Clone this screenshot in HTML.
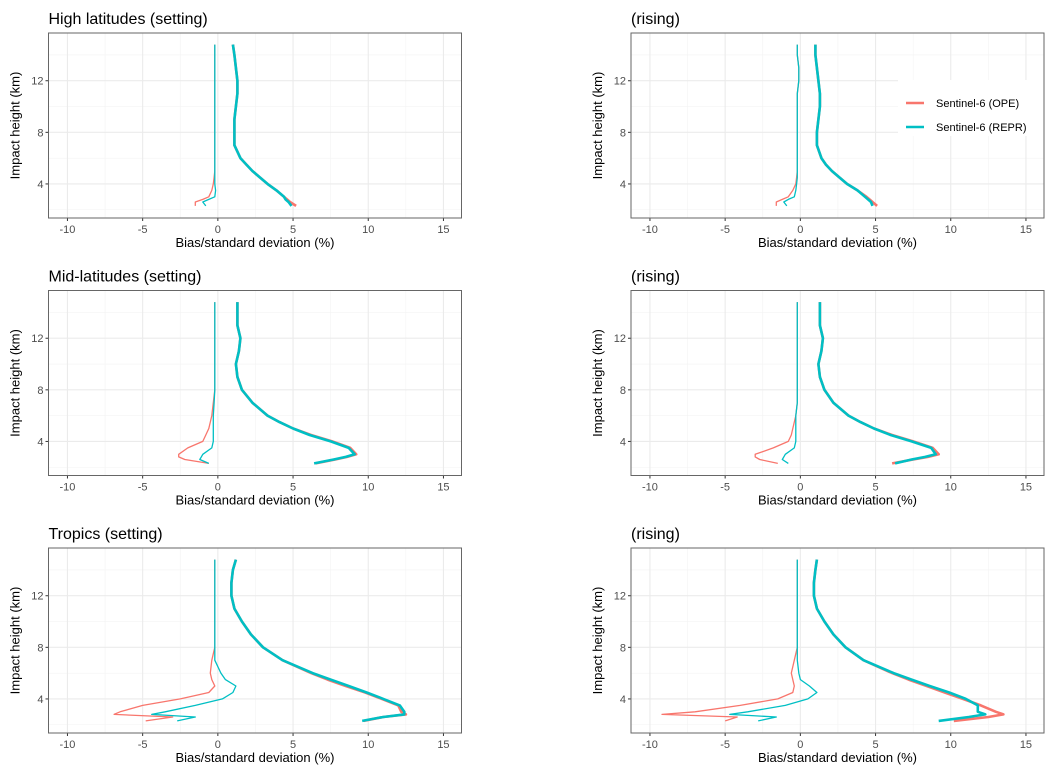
<!DOCTYPE html>
<html><head><meta charset="utf-8"><style>
body{margin:0;background:#fff;}
svg{display:block;font-family:"Liberation Sans",sans-serif;}
</style></head><body>
<svg id="chart" width="1056" height="779"></svg>
<script>
const heights=[2.3,2.6,2.8,3.0,3.5,4,4.5,5,5.5,6,7,8,9,10,11,12,13,14,14.8];
const panelTitles=["High latitudes (setting)","(rising)","Mid-latitudes (setting)","(rising)","Tropics (setting)","(rising)"];
const xTicks=[-10,-5,0,5,10,15];
const yTicks=[4,8,12];
const seriesNames=["Sentinel-6 (OPE)","Sentinel-6 (REPR)"];
const p1OpeBias=[-1.5,-1.5,-1.0,-0.6,-0.4,-0.3,-0.25,-0.2,-0.2,-0.2,-0.2,-0.2,-0.2,-0.2,-0.2,-0.2,-0.2,-0.2,-0.2];
const p1ReprBias=[-0.8,-1.0,-0.6,-0.2,-0.15,-0.2,-0.2,-0.2,-0.2,-0.2,-0.2,-0.2,-0.2,-0.2,-0.2,-0.2,-0.2,-0.2,-0.2];
const p1OpeStd=[5.2,4.8,4.6,4.4,3.9,3.3,2.8,2.3,1.9,1.5,1.1,1.1,1.1,1.2,1.3,1.3,1.2,1.1,1.0];
const p1ReprStd=[4.9,4.7,4.5,4.4,3.9,3.3,2.8,2.3,1.9,1.5,1.1,1.1,1.1,1.2,1.3,1.3,1.2,1.1,1.0];
const p2OpeBias=[-1.6,-1.6,-1.2,-0.8,-0.5,-0.3,-0.25,-0.2,-0.2,-0.2,-0.2,-0.2,-0.2,-0.2,-0.2,-0.1,-0.1,-0.2,-0.2];
const p2ReprBias=[-0.9,-1.1,-0.8,-0.4,-0.3,-0.25,-0.2,-0.2,-0.2,-0.2,-0.2,-0.2,-0.2,-0.2,-0.2,-0.1,-0.1,-0.2,-0.2];
const p2OpeStd=[5.1,4.8,4.6,4.4,3.8,3.1,2.6,2.1,1.7,1.4,1.1,1.1,1.2,1.3,1.3,1.2,1.1,1.0,1.0];
const p2ReprStd=[4.8,4.7,4.5,4.3,3.8,3.1,2.6,2.1,1.7,1.4,1.1,1.1,1.2,1.3,1.3,1.2,1.1,1.0,1.0];
const p3OpeBias=[-0.6,-2.2,-2.6,-2.6,-2.0,-1.0,-0.8,-0.6,-0.5,-0.4,-0.3,-0.2,-0.2,-0.2,-0.2,-0.2,-0.2,-0.2,-0.2];
const p3ReprBias=[-0.6,-1.2,-1.1,-1.0,-0.4,-0.3,-0.3,-0.3,-0.3,-0.3,-0.25,-0.2,-0.2,-0.2,-0.2,-0.2,-0.2,-0.2,-0.2];
const p3OpeStd=[6.5,7.8,8.6,9.2,8.8,7.6,6.2,5.0,4.1,3.3,2.3,1.6,1.3,1.2,1.4,1.5,1.3,1.3,1.3];
const p3ReprStd=[6.4,7.7,8.5,9.1,8.7,7.5,6.1,5.0,4.1,3.3,2.3,1.6,1.3,1.2,1.4,1.5,1.3,1.3,1.3];
const p4OpeBias=[-1.5,-2.7,-3.0,-3.0,-1.8,-0.8,-0.6,-0.5,-0.4,-0.3,-0.2,-0.2,-0.2,-0.2,-0.2,-0.2,-0.2,-0.2,-0.2];
const p4ReprBias=[-0.8,-1.2,-1.1,-1.0,-0.4,-0.3,-0.3,-0.3,-0.3,-0.3,-0.2,-0.2,-0.2,-0.2,-0.2,-0.2,-0.2,-0.2,-0.2];
const p4OpeStd=[6.1,7.5,8.5,9.2,8.8,7.5,6.1,4.9,4.0,3.2,2.2,1.6,1.3,1.2,1.4,1.5,1.3,1.3,1.3];
const p4ReprStd=[6.3,7.4,8.3,9.0,8.7,7.4,6.0,4.9,4.0,3.2,2.2,1.6,1.3,1.2,1.4,1.5,1.3,1.3,1.3];
const p5OpeBias=[-4.8,-3.0,-6.9,-6.5,-5.0,-2.5,-0.6,-0.2,-0.4,-0.5,-0.4,-0.2,-0.2,-0.2,-0.2,-0.2,-0.2,-0.2,-0.2];
const p5ReprBias=[-2.7,-1.5,-4.4,-3.5,-1.5,0.3,1.0,1.2,0.5,0.2,-0.2,-0.2,-0.2,-0.2,-0.2,-0.2,-0.2,-0.2,-0.2];
const p5OpeStd=[9.7,11.0,12.5,12.2,12.0,10.9,9.8,8.5,7.3,6.2,4.3,3.0,2.2,1.6,1.1,0.9,0.9,1.0,1.2];
const p5ReprStd=[9.6,11.0,12.4,12.4,12.1,11.0,9.9,8.7,7.5,6.3,4.3,3.0,2.2,1.6,1.1,0.9,0.9,1.0,1.2];
const p6OpeBias=[-5.0,-4.2,-9.2,-7.0,-4.0,-1.5,-0.5,-0.4,-0.5,-0.6,-0.4,-0.2,-0.2,-0.2,-0.2,-0.2,-0.2,-0.2,-0.2];
const p6ReprBias=[-2.8,-1.6,-4.7,-3.5,-1.0,0.5,1.1,0.6,0.0,-0.1,-0.2,-0.2,-0.2,-0.2,-0.2,-0.2,-0.2,-0.2,-0.2];
const p6OpeStd=[10.2,12.5,13.5,13.0,12.0,10.8,9.6,8.4,7.2,6.1,4.2,3.0,2.2,1.6,1.1,0.9,0.9,1.0,1.1];
const p6ReprStd=[9.2,11.2,12.3,11.8,11.8,11.0,9.9,8.6,7.4,6.2,4.2,3.0,2.2,1.6,1.1,0.9,0.9,1.0,1.1];
const panelData=[[p1OpeBias,p1ReprBias,p1OpeStd,p1ReprStd],[p2OpeBias,p2ReprBias,p2OpeStd,p2ReprStd],[p3OpeBias,p3ReprBias,p3OpeStd,p3ReprStd],[p4OpeBias,p4ReprBias,p4OpeStd,p4ReprStd],[p5OpeBias,p5ReprBias,p5OpeStd,p5ReprStd],[p6OpeBias,p6ReprBias,p6OpeStd,p6ReprStd]];

const NS="http://www.w3.org/2000/svg";
const svg=document.getElementById('chart');
function mk(tag,attrs,parent,text){const e=document.createElementNS(NS,tag);for(const k in attrs)e.setAttribute(k,attrs[k]);if(text!==undefined)e.textContent=text;(parent||svg).appendChild(e);return e;}
const X0=-11.26,X1=16.2,Y0=1.36,Y1=15.7,W=413,H=185;
const colX=[48.5,631],rowY=[33,290.5,548];
const colors=["#F8766D","#00BFC4"];
panelData.forEach((d,i)=>{
  const bx=colX[i%2],by=rowY[Math.floor(i/2)];
  const sx=v=>bx+(v-X0)/(X1-X0)*W, sy=v=>by+H-(v-Y0)/(Y1-Y0)*H;
  const g=mk('g',{});
  
  
  const t=mk('text',{x:bx,y:by-9,'font-size':16,fill:'#000'},g,panelTitles[i]);
  
  
  mk('rect',{x:bx,y:by,width:W,height:H,fill:'#fff'},g);
  [-7.5,-2.5,2.5,7.5,12.5].forEach(v=>mk('line',{x1:sx(v),x2:sx(v),y1:by,y2:by+H,stroke:'#F3F3F3','stroke-width':0.6},g));
  [2,6,10,14].forEach(v=>mk('line',{x1:bx,x2:bx+W,y1:sy(v),y2:sy(v),stroke:'#F3F3F3','stroke-width':0.6},g));
  xTicks.forEach(v=>{mk('line',{x1:sx(v),x2:sx(v),y1:by,y2:by+H,stroke:'#EBEBEB','stroke-width':1.1},g);
    mk('line',{x1:sx(v),x2:sx(v),y1:by+H,y2:by+H+3,stroke:'#333'},g);
    const l=mk('text',{x:sx(v),y:by+H+15,'font-size':11,fill:'#4D4D4D','text-anchor':'middle'},g,String(v));
    
    });
  yTicks.forEach(v=>{mk('line',{x1:bx,x2:bx+W,y1:sy(v),y2:sy(v),stroke:'#EBEBEB','stroke-width':1.1},g);
    mk('line',{x1:bx-3,x2:bx,y1:sy(v),y2:sy(v),stroke:'#333'},g);
    const l=mk('text',{x:bx-5,y:sy(v)+4,'font-size':11,fill:'#4D4D4D','text-anchor':'end'},g,String(v));
    
    });
  if(i===1){const lg=mk('rect',{x:898,y:80,width:146,height:56,fill:'#fff'},g);
    
    }
  const widths=[1.3,1.3,2.6,2.6];
  [0,2,1,3].forEach(k=>{
    const pts=heights.map((h,j)=>sx(d[k][j]).toFixed(1)+','+sy(h).toFixed(1)).join(' ');
    const p=mk('polyline',{points:pts,fill:'none',stroke:colors[k%2],'stroke-width':widths[k],'stroke-linejoin':'round'},g);
    
    
  });
  mk('rect',{x:bx,y:by,width:W,height:H,fill:'none',stroke:'#666','stroke-width':1},g);
  const xt=mk('text',{x:bx+W/2,y:by+H+29,'font-size':13,fill:'#000','text-anchor':'middle'},g,'Bias/standard deviation (%)');
  
  
  const yt=mk('text',{x:0,y:0,'font-size':13,fill:'#000','text-anchor':'middle',transform:`translate(${bx-29},${by+H/2}) rotate(-90)`},g,'Impact height (km)');
  
  
  if(i===1){seriesNames.forEach((n,k)=>{
    const yy=103+k*24;
    const le=mk('g',{},g);
    
    
    mk('line',{x1:906,x2:924,y1:yy,y2:yy,stroke:colors[k],'stroke-width':2.6},le);
    mk('text',{x:936,y:yy+4,'font-size':11,fill:'#000'},le,n);
  });}
});
</script>
</body></html>
